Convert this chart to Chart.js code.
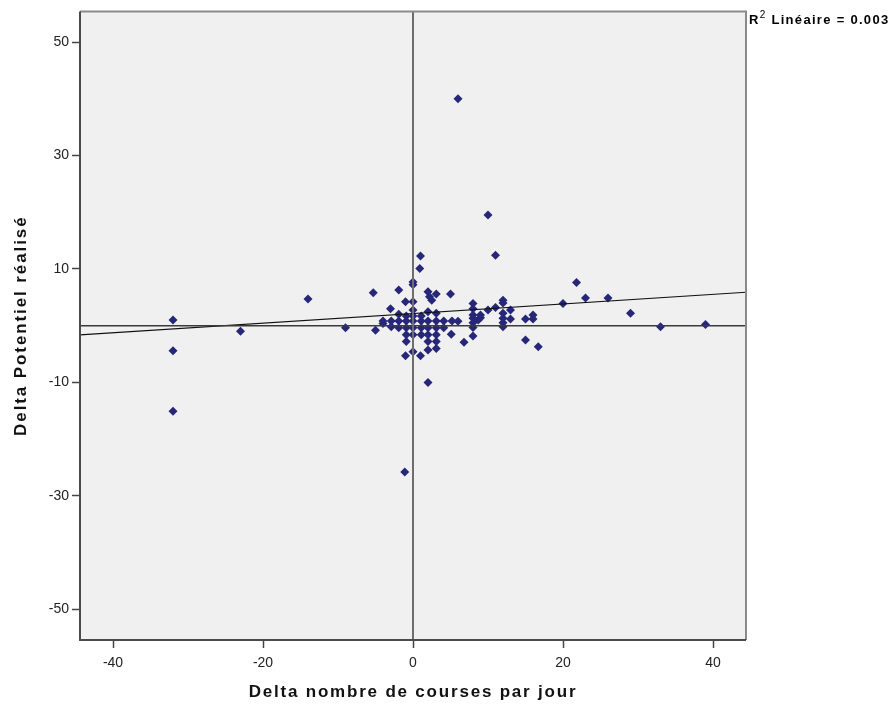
<!DOCTYPE html>
<html>
<head>
<meta charset="utf-8">
<script src="https://cdn.jsdelivr.net/npm/chart.js@4/dist/chart.umd.min.js"></script>
<style>
  body { margin: 0; background: #fff; }
  #wrap { width: 895px; height: 706px; }
</style>
</head>
<body>
<div id="wrap"><canvas id="scatterChart"></canvas></div>
<script>
// values
const xValues = [
  -32, -32, -32, -23, -14, -9, -5.3, -5, -4, -4, -3, -2.9, -2.9,
  -1.9, -1.9, -1.9, -1.9, -1, -0.9, -0.9, -0.9, -0.9, -0.9, -1, -1.1,
  0, 0, 0, 0, 0, 0, 0, 0, 0,
  1, 0.9, 1.1, 1.1, 1.1, 1.1, 1,
  2, 2.2, 2.5, 2, 2, 2, 2, 2, 2, 2,
  3.1, 3.1, 3.1, 3.1, 3.1, 3.1, 3.1,
  4.1, 4.1,
  5, 5.2, 5.1,
  6, 6, 6.8,
  8, 8, 8, 8, 8, 8, 8, 8.7, 9, 9,
  10, 10, 11, 11,
  12, 12, 12, 12, 12, 12, 13, 13,
  15, 15, 16, 16, 16.7,
  20, 21.8, 23, 26, 29, 33, 39
];
const yValues = [
  1.0, -4.4, -15.1, -1.0, 4.7, -0.35, 5.8, -0.8, 0.85, 0.4, 3.0, 0.85, -0.2,
  6.3, 2.0, 0.85, -0.35, 4.2, 1.7, 0.85, -0.35, -1.6, -2.8, -5.3, -25.8,
  7.7, 7.2, 4.2, 2.75, 1.7, 0.85, -0.35, -1.6, -4.6,
  12.3, 10.1, 1.7, 0.85, -0.35, -1.6, -5.3,
  6.0, 5.1, 4.5, 2.45, 0.85, -0.35, -1.6, -2.8, -4.3, -10.0,
  5.6, 2.2, 0.85, -0.35, -1.6, -2.8, -4.0,
  0.85, -0.35,
  5.6, 0.85, -1.5,
  40, 0.8, -2.9,
  3.9, 3.0, 1.9, 1.3, 0.5, -0.3, -1.8, 1.0, 1.9, 1.4,
  19.5, 2.75, 12.4, 3.2,
  4.5, 4.0, 2.2, 1.3, 0.5, -0.2, 2.75, 1.2,
  1.2, -2.5, 1.9, 1.2, -3.7,
  3.9, 7.6, 4.9, 4.9, 2.2, -0.2, 0.2
];

const xTicks = [-40, -20, 0, 20, 40];
const yTicks = [-50, -30, -10, 10, 30, 50];
const xRange = [-44.4, 44.4];
const yRange = [-55.4, 55.4];
const fitEnds = [-1.6, 5.9];   // fit line value at left / right edge
const xTitle = "Delta nombre de courses par jour";
const yTitle = "Delta Potentiel réalisé";
const fitLabel = ["R", "2", " Linéaire = 0.003"];

const FONT = "'Liberation Sans', Arial, sans-serif";

const points = xValues.map((x, i) => ({ x: x, y: yValues[i] }));

// plot background, frame, axis titles and the R² note
const framePlugin = {
  id: "frame",
  beforeDraw(chart) {
    const { ctx, chartArea: a } = chart;
    ctx.save();
    ctx.fillStyle = "#f0f0f0";
    ctx.fillRect(a.left, a.top, a.right - a.left, a.bottom - a.top);
    ctx.restore();
  },
  afterDraw(chart) {
    const { ctx, chartArea: a } = chart;
    ctx.save();
    ctx.lineWidth = 2;
    ctx.strokeStyle = "#8a8a8a";
    ctx.beginPath();
    ctx.moveTo(a.left, a.top);
    ctx.lineTo(a.right, a.top);
    ctx.lineTo(a.right, a.bottom);
    ctx.stroke();
    ctx.strokeStyle = "#4a4a4a";
    ctx.beginPath();
    ctx.moveTo(a.left, a.top);
    ctx.lineTo(a.left, a.bottom);
    ctx.lineTo(a.right, a.bottom);
    ctx.stroke();

    // axis titles (SPSS spaces its letters a bit)
    ctx.fillStyle = "#111";
    ctx.font = "bold 17px " + FONT;
    ctx.letterSpacing = "1.8px";
    ctx.textAlign = "center";
    ctx.textBaseline = "middle";
    ctx.fillText(xTitle, (a.left + a.right) / 2, 692);
    ctx.save();
    ctx.translate(21, (a.top + a.bottom) / 2);
    ctx.rotate(-Math.PI / 2);
    ctx.letterSpacing = "1.9px";
    ctx.fillText(yTitle, 0, 0);
    ctx.restore();

    // R² Linéaire label
    ctx.fillStyle = "#000";
    ctx.textAlign = "left";
    ctx.textBaseline = "alphabetic";
    ctx.letterSpacing = "1.3px";
    let x = a.right + 3;
    const base = 24;
    ctx.font = "bold 13px " + FONT;
    ctx.fillText(fitLabel[0], x, base);
    x += ctx.measureText(fitLabel[0]).width;
    ctx.font = "10px " + FONT;
    ctx.fillText(fitLabel[1], x, base - 6);
    x += ctx.measureText(fitLabel[1]).width;
    ctx.font = "bold 13px " + FONT;
    ctx.fillText(fitLabel[2], x, base);
    ctx.restore();
  }
};

new Chart(document.getElementById("scatterChart"), {
  type: "scatter",
  data: {
    datasets: [
      {
        type: "line",
        data: [{ x: 0, y: yRange[0] }, { x: 0, y: yRange[1] }],
        borderColor: "#6e6e6e",
        borderWidth: 2,
        pointRadius: 0,
        order: 1
      },
      {
        type: "line",
        data: [{ x: xRange[0], y: 0 }, { x: xRange[1], y: 0 }],
        borderColor: "#3a3a3a",
        borderWidth: 1.5,
        pointRadius: 0,
        order: 1
      },
      {
        type: "line",
        data: [{ x: xRange[0], y: fitEnds[0] }, { x: xRange[1], y: fitEnds[1] }],
        borderColor: "#111",
        borderWidth: 1.2,
        pointRadius: 0,
        order: 1
      },
      {
        data: points,
        pointStyle: "rectRot",
        pointRadius: 4.5,
        pointBackgroundColor: "#27277a",
        pointBorderWidth: 0,
        order: 2
      }
    ]
  },
  plugins: [framePlugin],
  options: {
    responsive: true,
    maintainAspectRatio: false,
    animation: false,
    layout: { padding: { top: 8, right: 149, left: 0, bottom: 0 } },
    plugins: {
      legend: { display: false },
      tooltip: { enabled: false }
    },
    scales: {
      x: {
        type: "linear",
        min: xRange[0],
        max: xRange[1],
        afterBuildTicks: (scale) => { scale.ticks = xTicks.map(v => ({ value: v })); },
        afterFit: (scale) => { scale.height = 66; },
        grid: {
          drawOnChartArea: false,
          drawTicks: true,
          tickLength: 8,
          tickColor: "#444",
          tickWidth: 1.5
        },
        border: { display: false },
        ticks: {
          color: "#222",
          font: { family: FONT, size: 14 },
          padding: 7,
          maxRotation: 0
        }
      },
      y: {
        type: "linear",
        min: yRange[0],
        max: yRange[1],
        afterBuildTicks: (scale) => { scale.ticks = yTicks.map(v => ({ value: v })); },
        afterFit: (scale) => { scale.width = 80; },
        grid: {
          drawOnChartArea: false,
          drawTicks: true,
          tickLength: 8,
          tickColor: "#444",
          tickWidth: 1.5
        },
        border: { display: false },
        ticks: {
          color: "#222",
          font: { family: FONT, size: 14 },
          padding: 3
        }
      }
    }
  }
});
</script>
</body>
</html>
